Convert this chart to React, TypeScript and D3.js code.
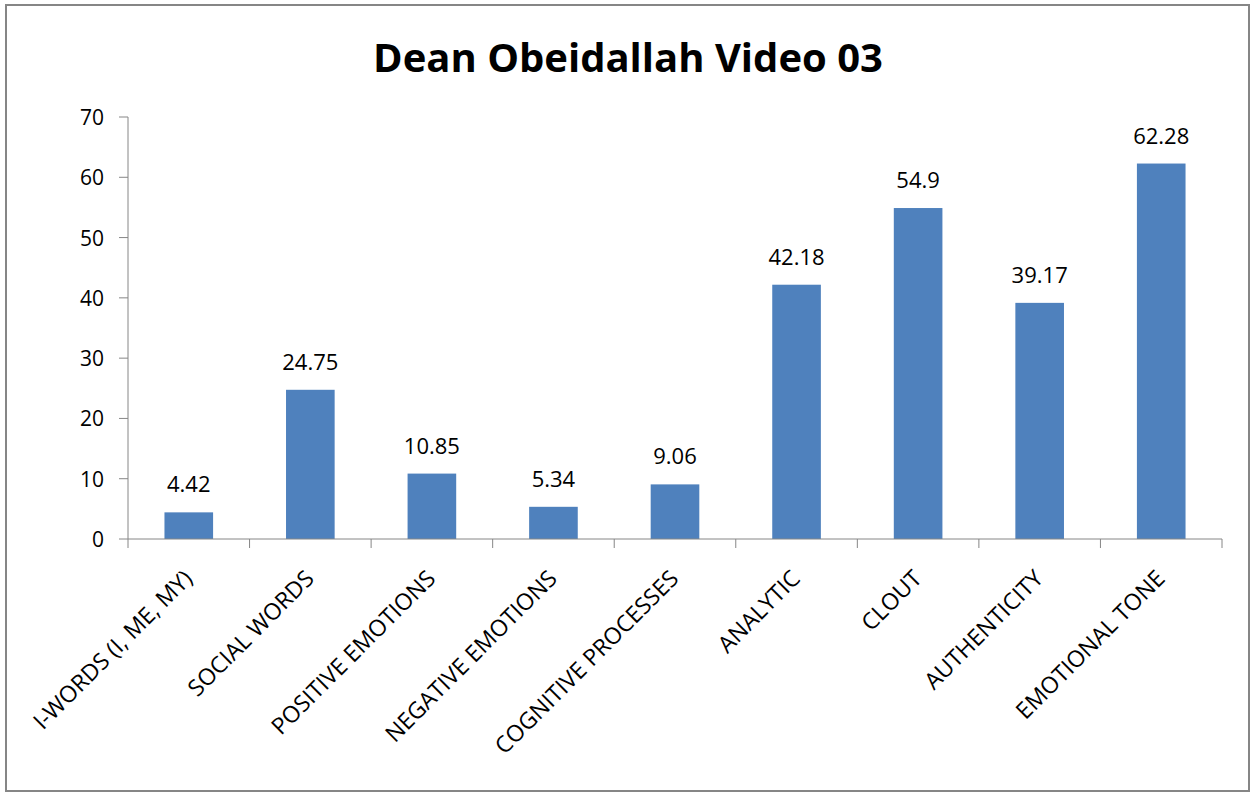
import { max, scaleBand, scaleLinear } from 'd3';

const categories = [
  'I-WORDS (I, ME, MY)',
  'SOCIAL WORDS',
  'POSITIVE EMOTIONS',
  'NEGATIVE EMOTIONS',
  'COGNITIVE PROCESSES',
  'ANALYTIC',
  'CLOUT',
  'AUTHENTICITY',
  'EMOTIONAL TONE',
];
const values = [4.42, 24.75, 10.85, 5.34, 9.06, 42.18, 54.9, 39.17, 62.28];
const yTicks = [0, 10, 20, 30, 40, 50, 60, 70];

const width = 1254;
const height = 793;
const plot = { left: 128, right: 1222, top: 117, bottom: 539 };
const font = '"Open Sans", "Noto Sans", sans-serif';

export default function App() {
  const xScale = scaleBand<string>()
    .domain(categories)
    .range([plot.left, plot.right])
    .paddingInner(0)
    .paddingOuter(0);

  const yScale = scaleLinear()
    .domain([0, max(yTicks) ?? 70])
    .range([plot.bottom, plot.top]);

  const band = xScale.bandwidth();
  const barWidth = band * 0.4;

  return (
    <div style={{ position: 'fixed', left: 0, top: 0 }}>
      <svg width={width} height={height} viewBox={`0 0 ${width} ${height}`} style={{ display: 'block', background: '#ffffff' }}>
        <rect x={6} y={5} width={1243} height={786} fill="#ffffff" stroke="#868686" strokeWidth={2} />

        <text x={628} y={72} textAnchor="middle" fontFamily={font} fontWeight="bold" fontSize={40} fill="#000000">
          Dean Obeidallah Video 03
        </text>

        {/* y axis */}
        <line x1={plot.left} x2={plot.left} y1={plot.top} y2={plot.bottom} stroke="#868686" strokeWidth={1} />
        {yTicks.map(tick => (
          <g key={tick}>
            <line x1={plot.left - 9} x2={plot.left} y1={yScale(tick)} y2={yScale(tick)} stroke="#868686" />
            <text x={104} y={yScale(tick) + 8} textAnchor="end" fontFamily={font} fontSize={21} fill="#000000">
              {tick}
            </text>
          </g>
        ))}

        {/* bars */}
        {categories.map((cat, i) => {
          const cx = (xScale(cat) ?? 0) + band / 2;
          const y = yScale(values[i]);
          return (
            <g key={cat}>
              <rect x={cx - barWidth / 2} y={y} width={barWidth} height={plot.bottom - y} fill="#4f81bd" />
              <text x={cx} y={y - 20} textAnchor="middle" fontFamily={font} fontSize={22} fill="#000000">
                {values[i]}
              </text>
            </g>
          );
        })}

        {/* x axis */}
        <line x1={plot.left} x2={plot.right} y1={plot.bottom} y2={plot.bottom} stroke="#868686" />
        {[...categories.map(c => xScale(c) ?? 0), plot.right].map((x, i) => (
          <line key={i} x1={x} x2={x} y1={plot.bottom} y2={plot.bottom + 9} stroke="#868686" />
        ))}
        {categories.map(cat => {
          const cx = (xScale(cat) ?? 0) + band / 2 + 5;
          const cy = 580;
          return (
            <text
              key={cat}
              x={cx}
              y={cy}
              transform={`rotate(-45 ${cx} ${cy})`}
              textAnchor="end"
              fontFamily={font}
              fontSize={23}
              fill="#000000"
            >
              {cat}
            </text>
          );
        })}
      </svg>
    </div>
  );
}
